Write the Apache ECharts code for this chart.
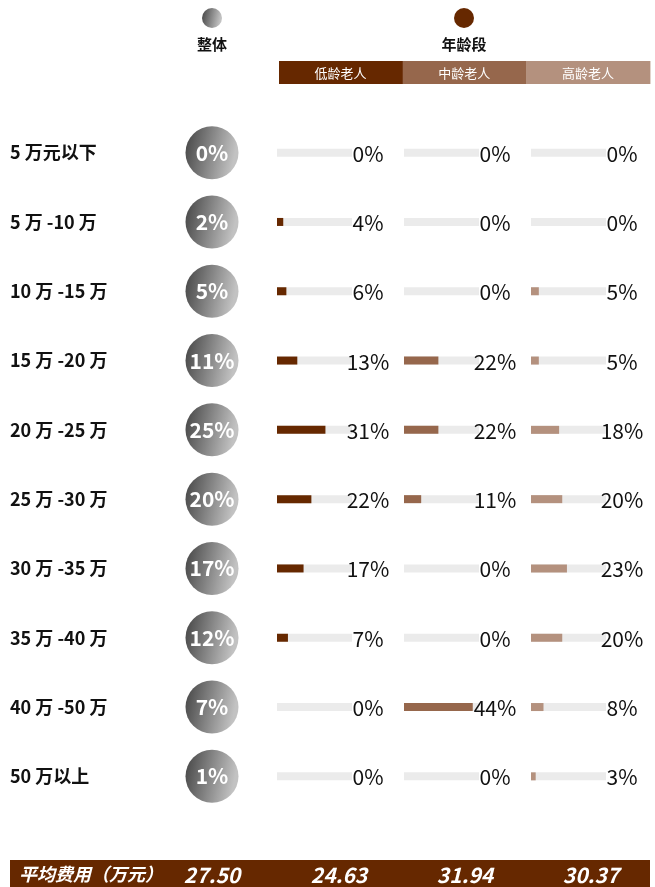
<!DOCTYPE html>
<html>
<head>
<meta charset="utf-8">
<script src="https://cdn.jsdelivr.net/npm/echarts@6/dist/echarts.min.js"></script>
<style>
  html, body { margin: 0; padding: 0; background: #fff; }
  #main { width: 655px; height: 887px; }
</style>
</head>
<body>
<div id="main"></div>
<script>
var categories = ['5 万元以下', '5 万 -10 万', '10 万 -15 万', '15 万 -20 万', '20 万 -25 万',
                  '25 万 -30 万', '30 万 -35 万', '35 万 -40 万', '40 万 -50 万', '50 万以上'];
var overall = [0, 2, 5, 11, 25, 20, 17, 12, 7, 1];
var lowAge = [0, 4, 6, 13, 31, 22, 17, 7, 0, 0];
var midAge = [0, 0, 0, 22, 22, 11, 0, 0, 44, 0];
var highAge = [0, 0, 5, 5, 18, 20, 23, 20, 8, 3];
var groupNames = ['低龄老人', '中龄老人', '高龄老人'];
var groupColors = ['#662800', '#96674c', '#b4917e'];
var avgOverall = '27.50';
var avgGroups = ['24.63', '31.94', '30.37'];
var MAX = 48;

var FONT = '"Noto Sans CJK SC", "Noto Sans", sans-serif';
var chart = echarts.init(document.getElementById('main'));

var gridTop = 118, gridH = 693;
var grey = new echarts.graphic.LinearGradient(0, 0, 1, 0.2, [
  {offset: 0, color: '#434343'}, {offset: 1, color: '#c2c2c2'}
]);

var grids = [{left: 186, width: 52, top: gridTop, height: gridH}];
var xAxes = [{gridIndex: 0, type: 'category', data: ['整体'], show: false}];
var yAxes = [{
  gridIndex: 0, type: 'category', data: categories, inverse: true,
  axisLine: {show: false}, axisTick: {show: false}, splitLine: {show: false},
  axisLabel: {align: 'left', margin: 176, color: '#111', fontSize: 18, fontWeight: 'bold', fontFamily: FONT}
}];
var series = [{
  type: 'scatter', xAxisIndex: 0, yAxisIndex: 0,
  data: overall.map(function (v, i) { return [0, i, v]; }),
  symbolSize: 53,
  itemStyle: {color: grey, opacity: 1},
  label: {
    show: true, position: 'inside', color: '#fff', fontSize: 21, fontWeight: 'bold', fontFamily: FONT,
    formatter: function (p) { return p.value[2] + '%'; }
  }
}];

[lowAge, midAge, highAge].forEach(function (vals, g) {
  var gi = g + 1;
  grids.push({left: 277 + 127 * g, width: 75, top: gridTop, height: gridH});
  xAxes.push({gridIndex: gi, type: 'value', min: 0, max: MAX, show: false});
  yAxes.push({gridIndex: gi, type: 'category', data: categories, inverse: true, show: false});
  series.push({
    type: 'bar', xAxisIndex: gi, yAxisIndex: gi, barWidth: 8, silent: true,
    data: vals.map(function () { return MAX; }),
    itemStyle: {color: '#ebebeb'},
    label: {
      show: true, position: 'right', distance: 16, align: 'center', offset: [0, 1],
      color: '#111', fontSize: 21, fontFamily: FONT,
      formatter: function (p) { return vals[p.dataIndex] + '%'; }
    }
  });
  series.push({
    type: 'bar', xAxisIndex: gi, yAxisIndex: gi, barWidth: 8, barGap: '-100%',
    data: vals, itemStyle: {color: groupColors[g]}
  });
});

var graphics = [
  {type: 'circle', shape: {cx: 212, cy: 18, r: 10}, style: {fill: grey}},
  {type: 'text', style: {x: 212, y: 44, text: '整体', align: 'center', verticalAlign: 'middle',
    fill: '#111', font: 'bold 15px ' + FONT}},
  {type: 'circle', shape: {cx: 464, cy: 18, r: 10}, style: {fill: groupColors[0]}},
  {type: 'text', style: {x: 464, y: 44, text: '年龄段', align: 'center', verticalAlign: 'middle',
    fill: '#111', font: 'bold 15px ' + FONT}},
  {type: 'rect', shape: {x: 10, y: 860, width: 640, height: 27}, style: {fill: groupColors[0]}},
  {type: 'text', style: {x: 19, y: 874, text: '平均费用（万元）', verticalAlign: 'middle',
    fill: '#fff', font: 'italic bold 18px ' + FONT}},
  {type: 'text', style: {x: 212, y: 875, text: avgOverall, align: 'center', verticalAlign: 'middle',
    fill: '#fff', font: 'italic bold 21px ' + FONT}}
];
groupNames.forEach(function (name, g) {
  graphics.push({type: 'rect', shape: {x: 279 + 123.7 * g, y: 61, width: 124, height: 23},
    style: {fill: groupColors[g]}});
  graphics.push({type: 'text', style: {x: 340.5 + 123.7 * g, y: 73, text: name, align: 'center',
    verticalAlign: 'middle', fill: '#fff', font: '13px ' + FONT}});
  graphics.push({type: 'text', style: {x: 339 + 126 * g, y: 875, text: avgGroups[g], align: 'center',
    verticalAlign: 'middle', fill: '#fff', font: 'italic bold 21px ' + FONT}});
});

var option = {
  animation: false,
  grid: grids,
  xAxis: xAxes,
  yAxis: yAxes,
  series: series,
  graphic: graphics
};
chart.setOption(option);
window.addEventListener('resize', function () { chart.resize(); });
</script>
</body>
</html>
